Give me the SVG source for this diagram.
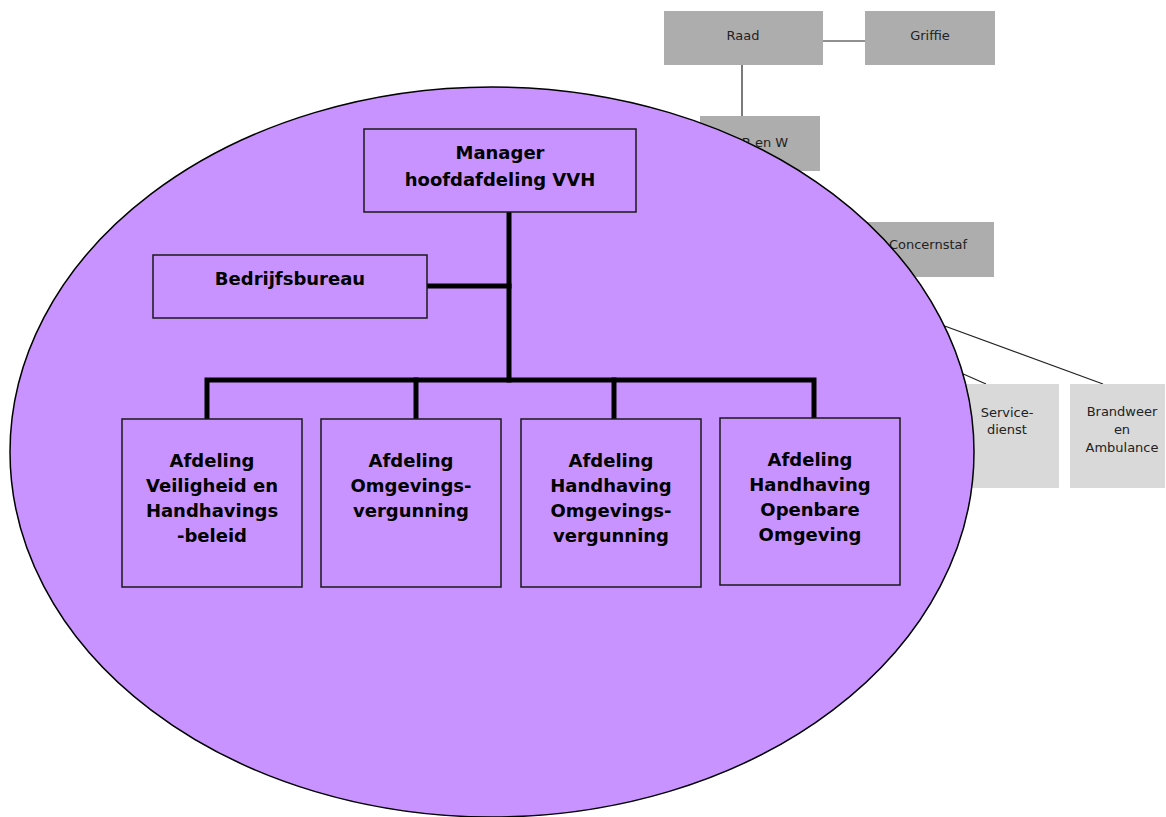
<svg xmlns="http://www.w3.org/2000/svg" width="1166" height="817" viewBox="0 0 1166 817">
  <style>
    .org { fill: #adadad; }
    .unit { fill: #d9d9d9; }
    .thin { stroke: #222; stroke-width: 1.2; fill: none; }
    .thick { stroke: #000; stroke-width: 5; fill: none; stroke-linecap: square; }
    .box { fill: #c893ff; stroke: #1a1a1a; stroke-width: 1.5; }
    .small { font-family: "DejaVu Sans", Verdana, sans-serif; font-size: 13px; fill: #222; text-anchor: middle; }
    .bold { font-family: "DejaVu Sans", Verdana, sans-serif; font-size: 18px; font-weight: bold; fill: #000; text-anchor: middle; }
  </style>

  <!-- thin lines of the municipal organisation -->
  <g id="org-connectors">
    <line class="thin" x1="823" y1="41" x2="865" y2="41"/>
    <line class="thin" x1="742" y1="65" x2="742" y2="116"/>
    <line class="thin" x1="890" y1="306" x2="1103" y2="384"/>
    <line class="thin" x1="920" y1="355" x2="986" y2="384"/>
  </g>

  <g id="raad">
    <rect class="org" x="664" y="11" width="159" height="54"/>
    <text class="small" x="743" y="40">Raad</text>
  </g>
  <g id="griffie">
    <rect class="org" x="865" y="11" width="130" height="54"/>
    <text class="small" x="930" y="40">Griffie</text>
  </g>
  <g id="b-en-w">
    <rect class="org" x="700" y="116" width="120" height="55"/>
    <text class="small" x="765" y="147">B en W</text>
  </g>
  <g id="concernstaf">
    <rect class="org" x="850" y="222" width="144" height="55"/>
    <text class="small" x="928" y="249">Concernstaf</text>
  </g>
  <g id="servicedienst">
    <rect class="unit" x="950" y="384" width="109" height="104"/>
    <text class="small" x="1007" y="417">Service-</text>
    <text class="small" x="1007" y="434">dienst</text>
  </g>
  <g id="brandweer">
    <rect class="unit" x="1070" y="384" width="95" height="104"/>
    <text class="small" x="1122" y="416">Brandweer</text>
    <text class="small" x="1122" y="434">en</text>
    <text class="small" x="1122" y="452">Ambulance</text>
  </g>

  <!-- the VVH department area -->
  <g id="vvh-area">
    <ellipse cx="492" cy="452" rx="482" ry="365" fill="#c893ff" stroke="#000" stroke-width="1.5"/>
  </g>

  <g id="vvh-connectors">
    <polyline class="thick" points="509,213 509,380"/>
    <polyline class="thick" points="427,286 509,286"/>
    <polyline class="thick" points="207,418 207,380 814,380 814,418"/>
    <polyline class="thick" points="416,380 416,418"/>
    <polyline class="thick" points="614,380 614,418"/>
  </g>

  <g id="manager">
    <rect class="box" x="364" y="129" width="272" height="83"/>
    <text class="bold" x="500" y="159">Manager</text>
    <text class="bold" x="500" y="186">hoofdafdeling VVH</text>
  </g>
  <g id="bedrijfsbureau">
    <rect class="box" x="153" y="255" width="274" height="63"/>
    <text class="bold" x="290" y="285">Bedrijfsbureau</text>
  </g>
  <g id="afd-veiligheid">
    <rect class="box" x="122" y="419" width="180" height="168"/>
    <text class="bold" x="212" y="467">Afdeling</text>
    <text class="bold" x="212" y="492">Veiligheid en</text>
    <text class="bold" x="212" y="517">Handhavings</text>
    <text class="bold" x="212" y="542">-beleid</text>
  </g>
  <g id="afd-omgevingsvergunning">
    <rect class="box" x="321" y="419" width="180" height="168"/>
    <text class="bold" x="411" y="467">Afdeling</text>
    <text class="bold" x="411" y="492">Omgevings-</text>
    <text class="bold" x="411" y="517">vergunning</text>
  </g>
  <g id="afd-handhaving-omgevingsvergunning">
    <rect class="box" x="521" y="419" width="180" height="168"/>
    <text class="bold" x="611" y="467">Afdeling</text>
    <text class="bold" x="611" y="492">Handhaving</text>
    <text class="bold" x="611" y="517">Omgevings-</text>
    <text class="bold" x="611" y="542">vergunning</text>
  </g>
  <g id="afd-handhaving-openbare-omgeving">
    <rect class="box" x="720" y="418" width="180" height="167"/>
    <text class="bold" x="810" y="466">Afdeling</text>
    <text class="bold" x="810" y="491">Handhaving</text>
    <text class="bold" x="810" y="516">Openbare</text>
    <text class="bold" x="810" y="541">Omgeving</text>
  </g>
</svg>
